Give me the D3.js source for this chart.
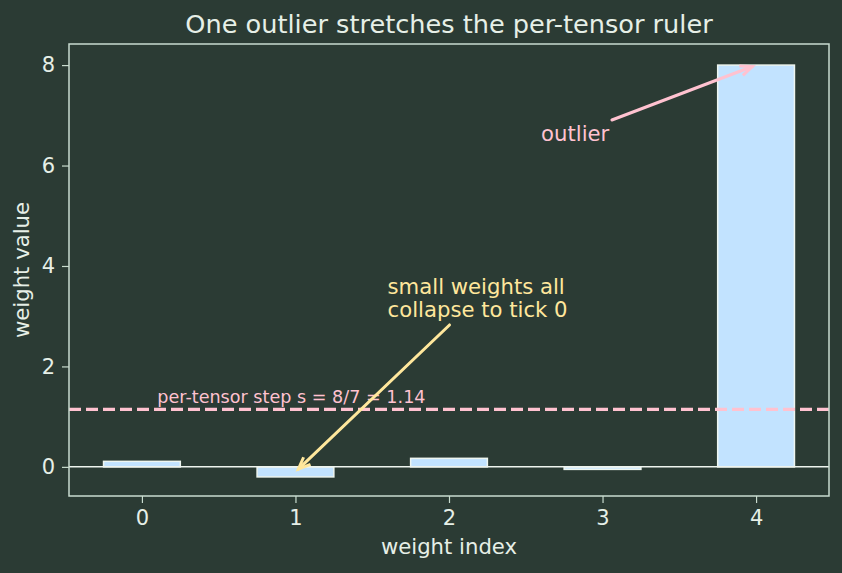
<!DOCTYPE html>
<html>
<head>
<meta charset="utf-8">
<script src="https://cdn.jsdelivr.net/npm/d3@7"></script>
<style>
  html, body { margin: 0; padding: 0; background: #2b3b34; }
  svg { display: block; font-family: "DejaVu Sans", sans-serif; }
</style>
</head>
<body>
<div id="chart"></div>
<script>
/* Outlier vs per-tensor step, bar chart */

const indices = [0, 1, 2, 3, 4];
const weights = [0.11, -0.2, 0.17, -0.05, 8.0];
const xTicks = [0, 1, 2, 3, 4];
const yTicks = [0, 2, 4, 6, 8];
const step = 8 / 7;
const stepLabel = "per-tensor step s = 8/7 = 1.14";
const notes = [
  { lines: ["outlier"], x: 2.6, y: 6.5, tx: 4, ty: 8, color: "#ffc2d0" },
  { lines: ["small weights all", "collapse to tick 0"], x: 1.6, y: 3.0, tx: 1, ty: -0.1, color: "#ffe79c" }
];

const width = 842, height = 573,
    margin = ({ top: 44, right: 13, bottom: 77, left: 69 });

const bg = "#2b3b34", ink = "#e6efe7", spine = "#c9dccf", barFill = "#c2e3ff", pink = "#ffc2d0";

const svg = d3.select("#chart")
    .append("svg")
    .attr("width", width)
    .attr("height", height)
    .attr("viewBox", [0, 0, width, height]);

svg.append("rect").attr("width", width).attr("height", height).attr("fill", bg);

// matplotlib-like padding around the data range
let x = d3.scaleLinear()
    .domain([-0.475, 4.475])
    .range([margin.left, width - margin.right]);

let y = d3.scaleLinear()
    .domain([-0.58, 8.42])
    .range([height - margin.bottom, margin.top]);

// bars
svg.append("g")
  .selectAll("rect")
  .data(indices)
  .join("rect")
    .attr("x", i => x(i - 0.25))
    .attr("width", x(0.5) - x(0))
    .attr("y", i => y(Math.max(0, weights[i])))
    .attr("height", i => Math.abs(y(weights[i]) - y(0)))
    .attr("fill", barFill)
    .attr("stroke", "#eef6f0")
    .attr("stroke-width", 1.5);

// zero line
svg.append("line")
    .attr("x1", x.range()[0]).attr("x2", x.range()[1])
    .attr("y1", y(0)).attr("y2", y(0))
    .attr("stroke", "#eef4ee")
    .attr("stroke-width", 1.5);

// per-tensor step line
svg.append("line")
    .attr("x1", x.range()[0]).attr("x2", x.range()[1])
    .attr("y1", y(step)).attr("y2", y(step))
    .attr("stroke", pink)
    .attr("stroke-width", 3.3)
    .attr("stroke-dasharray", "12,5");

svg.append("text")
    .attr("x", x(0.1))
    .attr("y", y(step) - 6)
    .attr("fill", pink)
    .attr("font-size", 17.6)
    .text(stepLabel);

// axes
const xAxis = svg.append("g")
    .attr("transform", `translate(0,${height - margin.bottom})`)
    .call(d3.axisBottom(x).tickValues(xTicks).tickFormat(d3.format("d")).tickSize(7).tickPadding(7).tickSizeOuter(0));

const yAxis = svg.append("g")
    .attr("transform", `translate(${margin.left},0)`)
    .call(d3.axisLeft(y).tickValues(yTicks).tickFormat(d3.format("d")).tickSize(7).tickPadding(7).tickSizeOuter(0));

for (const ax of [xAxis, yAxis]) {
  ax.select(".domain").remove();
  ax.selectAll("line").attr("stroke", spine).attr("stroke-width", 1.2);
  ax.selectAll("text").attr("fill", ink).attr("font-size", 21).attr("font-family", "DejaVu Sans");
}

// frame
svg.append("rect")
    .attr("x", margin.left)
    .attr("y", margin.top)
    .attr("width", width - margin.left - margin.right)
    .attr("height", height - margin.top - margin.bottom)
    .attr("fill", "none")
    .attr("stroke", spine)
    .attr("stroke-width", 1.5);

// labels
svg.append("text")
    .attr("x", (margin.left + width - margin.right) / 2)
    .attr("y", 554)
    .attr("text-anchor", "middle")
    .attr("fill", ink)
    .attr("font-size", 21.2)
    .text("weight index");

svg.append("text")
    .attr("transform", `translate(29,${(margin.top + height - margin.bottom) / 2}) rotate(-90)`)
    .attr("text-anchor", "middle")
    .attr("fill", ink)
    .attr("font-size", 21.2)
    .text("weight value");

svg.append("text")
    .attr("x", (margin.left + width - margin.right) / 2)
    .attr("y", 33)
    .attr("text-anchor", "middle")
    .attr("fill", ink)
    .attr("font-size", 25.6)
    .text("One outlier stretches the per-tensor ruler");

// annotations with arrows from text box to target
for (const n of notes) {
  const lh = 23;
  const t = svg.append("text")
      .attr("fill", n.color)
      .attr("font-size", 21.2);
  n.lines.forEach((s, k) => {
    t.append("tspan")
      .attr("x", x(n.x))
      .attr("y", y(n.y) - (n.lines.length - 1 - k) * lh + 1)
      .text(s);
  });
  const b = t.node().getBBox();
  const cx = b.x + b.width / 2, cy = b.y + b.height / 2;
  const px = x(n.tx), py = y(n.ty);
  const dx = px - cx, dy = py - cy;
  const s = Math.min(Math.abs(b.width / 2 / dx), Math.abs(b.height / 2 / dy));
  const len = Math.hypot(dx, dy), ux = dx / len, uy = dy / len;
  const sx = cx + dx * s + ux * 4, sy = cy + dy * s + uy * 4;
  const ex = px - ux * 4, ey = py - uy * 4;
  svg.append("line")
      .attr("x1", sx).attr("y1", sy).attr("x2", ex).attr("y2", ey)
      .attr("stroke", n.color).attr("stroke-width", 3).attr("stroke-linecap", "round");
  const hl = 12, hw = 5;
  const bx = ex - ux * hl, by = ey - uy * hl;
  svg.append("path")
      .attr("d", `M${bx - uy * hw},${by + ux * hw}L${ex},${ey}L${bx + uy * hw},${by - ux * hw}`)
      .attr("fill", "none")
      .attr("stroke", n.color).attr("stroke-width", 3).attr("stroke-linejoin", "miter");
}
</script>
</body>
</html>
